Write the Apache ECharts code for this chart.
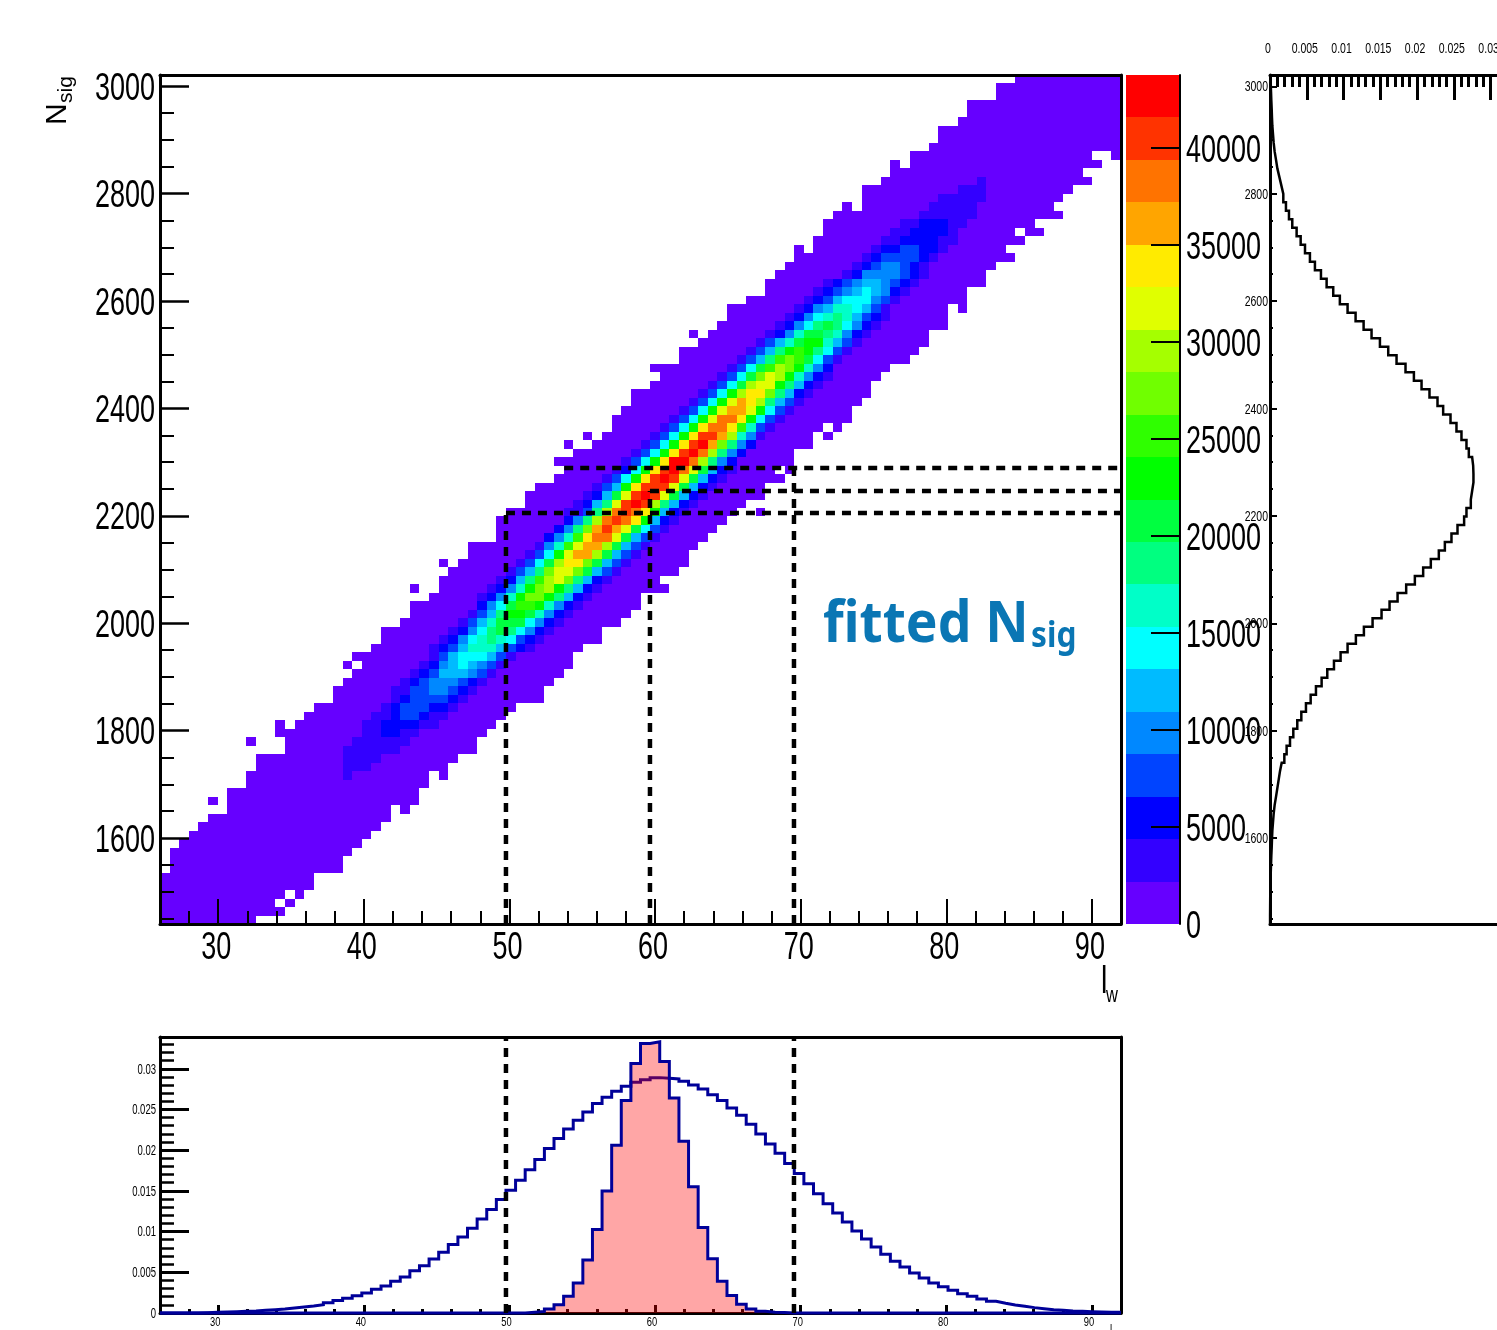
<!DOCTYPE html>
<html>
<head>
<meta charset="utf-8">
<title>fitted Nsig</title>
<style>html,body{margin:0;padding:0;background:#fff;overflow:hidden}#c{width:1497px;height:1330px}</style>
<script src="https://cdn.jsdelivr.net/npm/echarts@6/dist/echarts.min.js"></script>
</head>
<body>
<div id="c"></div>
<script>
// ---------- binning ----------
const xMin = 26, xMax = 92, xBins = 100;
const yMin = 1440, yMax = 3021, yBins = 100;

// ---------- ticks ----------
const xMajor = [30, 40, 50, 60, 70, 80, 90];
const xMinor = [28, 32, 34, 36, 38, 42, 44, 46, 48, 52, 54, 56, 58, 62, 64, 66, 68, 72, 74, 76, 78, 82, 84, 86, 88, 92];
const yMajor = [1600, 1800, 2000, 2200, 2400, 2600, 2800, 3000];
const yMinor = [1450, 1500, 1550, 1650, 1700, 1750, 1850, 1900, 1950, 2050, 2100, 2150, 2250, 2300, 2350, 2450, 2500, 2550, 2650, 2700, 2750, 2850, 2900, 2950];
const probMajor = [0, 0.005, 0.01, 0.015, 0.02, 0.025, 0.03];
const probMinor = [0.001, 0.002, 0.003, 0.004, 0.006, 0.007, 0.008, 0.009, 0.011, 0.012, 0.013, 0.014, 0.016, 0.017, 0.018, 0.019, 0.021, 0.022, 0.023, 0.024, 0.026, 0.027, 0.028, 0.029, 0.031, 0.032, 0.033];
const zTicks = [5000, 10000, 15000, 20000, 25000, 30000, 35000, 40000];
const zLabels = [0, 5000, 10000, 15000, 20000, 25000, 30000, 35000, 40000];

// ---------- palette and colour-bar levels ----------
const palette = ['#6600ff', '#3300ff', '#0000ff', '#0044ff', '#0088ff', '#00bbff', '#00ffff', '#00ffc8', '#00ff80', '#00ff40',
  '#00ff00', '#2fff00', '#70ff00', '#a5ff00', '#e0ff00', '#ffeb00', '#ffa500', '#ff7300', '#ff3300', '#ff0000'];
const levelEdges = [0, 2188, 4376, 6564, 8752, 10940, 13128, 15316, 17504, 19692, 21880, 24068, 26256, 28444, 30632, 32820, 35008, 37196, 39384, 41572, 43760];

// ---------- 2D histogram, row by row from the bottom: occupied column span ----------
const outlineLeft = [0, 0, 0, 0, 0, 0, 1, 1, 1, 2, 3, 4, 5, 7, 7, 7, 9, 9, 10, 10, 13, 13, 12, 14, 15, 16, 18, 18, 19, 20, 21, 20, 22, 23, 23, 25, 26, 26, 28, 29, 29, 30, 31, 32, 32, 35, 35, 35, 36, 38, 38, 39, 41, 42, 41, 43, 45, 46, 47, 47, 48, 49, 49, 51, 52, 51, 54, 54, 56, 57, 58, 59, 59, 61, 63, 63, 64, 65, 66, 68, 68, 69, 69, 70, 73, 73, 73, 75, 76, 78, 78, 80, 81, 81, 83, 84, 84, 87, 87, 89];
const outlineRight = [10, 13, 12, 13, 16, 16, 19, 19, 20, 21, 22, 23, 24, 24, 27, 27, 28, 28, 30, 31, 33, 33, 34, 35, 36, 37, 40, 40, 41, 42, 43, 43, 44, 46, 46, 48, 49, 50, 50, 53, 52, 54, 55, 55, 56, 57, 58, 59, 60, 61, 63, 63, 65, 64, 66, 66, 68, 68, 69, 72, 72, 73, 74, 74, 75, 76, 78, 79, 80, 80, 82, 82, 82, 84, 84, 86, 86, 87, 89, 88, 90, 89, 91, 94, 93, 94, 95, 97, 96, 98, 97, 100, 100, 100, 100, 100, 100, 100, 100, 100];
// isolated lowest-level cells outside the span: [column, row]
const strays = [[13, 2], [14, 3], [25, 13], [5, 14], [29, 17], [9, 21], [12, 23], [19, 30], [26, 39], [29, 42], [62, 48], [65, 53], [42, 56], [44, 57], [69, 57], [70, 58], [55, 69], [83, 72], [66, 79], [90, 81], [91, 81], [71, 84], [76, 89], [99, 90]];
// the populated core: [row, first column, colour level per column in base 20]
const coreRows = [
  [17, 19, '1'], [18, 19, '111'], [19, 19, '1111'], [20, 19, '111111'], [21, 20, '111111'],
  [22, 21, '112211'], [23, 21, '11222211'], [24, 22, '11233211'], [25, 23, '12333221'], [26, 24, '12333321'],
  [27, 24, '113344321'], [28, 25, '123444321'], [29, 26, '123555431'], [30, 27, '124565431'], [31, 28, '135666531'],
  [32, 28, '12357775321'], [33, 29, '12467876321'], [34, 30, '12468986421'], [35, 31, '13579996421'], [36, 32, '1358aa97421'],
  [37, 33, '2469bba7421'], [38, 33, '1247acca8521'], [39, 34, '1247acda8521'], [40, 35, '1258bdec8521'], [41, 36, '1358ceec9531'],
  [42, 37, '1369dffc9531'], [43, 38, '136aeggd9531'], [44, 39, '147beggd9531'], [45, 40, '247bfhhe9531'], [46, 41, '248cgige9631'],
  [47, 42, '248dhihfa521'], [48, 42, '1138dhihfa521'], [49, 43, '1258eijid8521'], [50, 44, '1259eijie9521'], [51, 45, '135afiiie9521'],
  [52, 46, '136afijie9521'], [53, 47, '126afijhe9521'], [54, 48, '136afjjhd842'], [55, 49, '136afijhd842'], [56, 50, '136afijgc842'],
  [57, 51, '136afiigd741'], [58, 52, '136afhhfb731'], [59, 53, '136aehhfa631'], [60, 54, '136aeggea631'], [61, 55, '136aegfd8531'],
  [62, 56, '136adffc8521'], [63, 57, '1369deea8521'], [64, 58, '1369ceda7421'], [65, 59, '1369bdca742'], [66, 60, '1358bcb9631'],
  [67, 61, '1358aba8631'], [68, 62, '13579aa7531'], [69, 63, '12479987421'], [70, 64, '12468986421'], [71, 65, '12467875321'],
  [72, 66, '1245776531'], [73, 67, '1235666431'], [74, 68, '1234565421'], [75, 69, '1234554321'], [76, 71, '124444321'],
  [77, 72, '12344321'], [78, 73, '12333321'], [79, 74, '12233221'], [80, 75, '11222211'], [81, 76, '1122221'],
  [82, 77, '1122211'], [83, 79, '111111'], [84, 80, '11111'], [85, 81, '11111'], [86, 83, '111'], [87, 85, '1']
];

// ---------- bottom histograms (probability per x bin) ----------
const xHistWide = [0, 0, 0, 0, 0.00004, 0.00008, 0.00012, 0.00016, 0.0002, 0.00025, 0.00033, 0.00041, 0.00049, 0.00061, 0.00074, 0.00086, 0.00102, 0.00127, 0.00152, 0.00180, 0.00213, 0.00246, 0.00291, 0.00332, 0.00389, 0.00442, 0.00520, 0.00581, 0.00664, 0.00745, 0.00840, 0.00934, 0.01040, 0.01155, 0.01270, 0.01393, 0.01507, 0.01630, 0.01761, 0.01884, 0.02019, 0.02142, 0.02261, 0.02367, 0.02470, 0.02572, 0.02650, 0.02724, 0.02785, 0.02834, 0.02866, 0.02891, 0.02883, 0.02875, 0.02846, 0.02801, 0.02752, 0.02682, 0.02609, 0.02518, 0.02428, 0.02318, 0.02199, 0.02076, 0.01962, 0.01835, 0.01712, 0.01589, 0.01466, 0.01343, 0.01229, 0.01118, 0.01008, 0.00909, 0.00810, 0.00721, 0.00635, 0.00565, 0.00491, 0.00430, 0.00369, 0.00323, 0.00278, 0.00237, 0.00205, 0.00172, 0.00143, 0.00119, 0.00098, 0.00082, 0.00066, 0.00053, 0.00041, 0.00033, 0.00025, 0.00020, 0.00016, 0.00012, 0.00008, 0.00008];
const xHistNarrow = [0, 0, 0, 0, 0, 0, 0, 0, 0, 0, 0, 0, 0, 0, 0, 0, 0, 0, 0, 0, 0, 0, 0, 0, 0, 0, 0, 0, 0, 0, 0, 0, 0, 0, 0, 0, 0, 0, 0.0001, 0.0002, 0.0005, 0.001, 0.00206, 0.0037, 0.0065, 0.01026, 0.015, 0.0206, 0.0261, 0.03065, 0.0331, 0.0333, 0.0309, 0.0264, 0.0211, 0.0155, 0.0105, 0.00666, 0.0039, 0.00215, 0.00108, 0.0005, 0.00022, 0.0001, 0.00005, 0, 0, 0, 0, 0, 0, 0, 0, 0, 0, 0, 0, 0, 0, 0, 0, 0, 0, 0, 0, 0, 0, 0, 0, 0, 0, 0, 0, 0, 0, 0, 0, 0, 0, 0];

// ---------- right histogram (probability per y bin, from the bottom) ----------
const yHist = [0.00001, 0.00002, 0.00003, 0.00005, 0.00008, 0.0001, 0.00014, 0.00018, 0.00023, 0.00027, 0.00032, 0.00041, 0.0005, 0.00063, 0.00082, 0.001, 0.00118, 0.00136, 0.00159, 0.00195, 0.00226, 0.00272, 0.00317, 0.00371, 0.00426, 0.00489, 0.00553, 0.00625, 0.00702, 0.00779, 0.0087, 0.0096, 0.01055, 0.01168, 0.01277, 0.01395, 0.01517, 0.01626, 0.01735, 0.01852, 0.0197, 0.02083, 0.02187, 0.02296, 0.02378, 0.02468, 0.0255, 0.0264, 0.02672, 0.02731, 0.02749, 0.02767, 0.02767, 0.02763, 0.02749, 0.02704, 0.02672, 0.02604, 0.02536, 0.02455, 0.02355, 0.02278, 0.02169, 0.02061, 0.01957, 0.01843, 0.01721, 0.01608, 0.01495, 0.01381, 0.01273, 0.01164, 0.01055, 0.0095, 0.0086, 0.0077, 0.00693, 0.00611, 0.00543, 0.00476, 0.00417, 0.00362, 0.00303, 0.00258, 0.00217, 0.00181, 0.00154, 0.00127, 0.001, 0.00082, 0.00063, 0.0005, 0.00041, 0.00032, 0.00027, 0.00023, 0.00018, 0.00014, 0.0001, 0.00005];

// ---------- dashed guide lines, in data units ----------
const guideX = [49.76, 59.65, 69.54];
const guideY = [2205.5, 2246.5, 2289.3];
const guideStartX = [49.76, 59.65, 53.76];
const guideEndX = 91.98;

// ---------- helpers ----------
const SANS = '"Liberation Sans",sans-serif';
const xStep = (xMax - xMin) / xBins, yStep = (yMax - yMin) / yBins;
const cells = [];
function putCell(c, r, lvl) {
  cells.push([xMin + c * xStep, yMin + r * yStep, xMin + (c + 1) * xStep, yMin + (r + 1) * yStep, lvl]);
}
const grid2d = {};
outlineLeft.forEach(function (l, r) { for (let c = l; c < outlineRight[r]; c++) grid2d[c + '_' + r] = 0; });
strays.forEach(function (s) { grid2d[s[0] + '_' + s[1]] = 0; });
coreRows.forEach(function (row) {
  for (let i = 0; i < row[2].length; i++) grid2d[(row[1] + i) + '_' + row[0]] = parseInt(row[2][i], 20);
});
Object.keys(grid2d).forEach(function (k) { const p = k.split('_'); putCell(+p[0], +p[1], grid2d[k]); });

function renderBox(params, api) {
  const a = api.coord([api.value(0), api.value(1)]), b = api.coord([api.value(2), api.value(3)]);
  const x = Math.round(a[0]), y = Math.round(b[1]);
  return { type: 'rect', shape: { x: x, y: y, width: Math.round(b[0]) - x, height: Math.round(a[1]) - y }, style: { fill: palette[api.value(4)] } };
}
function stepX(vals) {
  const out = [[xMin, 0]];
  vals.forEach(function (v, i) { out.push([xMin + i * xStep, v], [xMin + (i + 1) * xStep, v]); });
  out.push([xMax, 0]);
  return out;
}
function stepY(vals) {
  const out = [];
  vals.forEach(function (v, i) { out.push([v, yMin + i * yStep], [v, yMin + (i + 1) * yStep]); });
  return out;
}
function axis(grid, pos, lo, hi, o) {
  o = o || {};
  return {
    type: 'value', gridIndex: grid, position: pos, min: lo, max: hi, z: 10, silent: true, splitLine: { show: false },
    axisLine: { show: !!o.line, onZero: false, lineStyle: { color: '#000', width: o.line || 0 } },
    axisTick: { show: !!o.ticks, inside: true, length: o.len || 0, customValues: o.ticks || [], lineStyle: { color: '#000', width: o.tw || 2 } },
    axisLabel: { show: false }
  };
}
function guide(pts, xi, yi) {
  return { type: 'line', xAxisIndex: xi, yAxisIndex: yi, data: pts, symbol: 'none', silent: true, z: 15, clip: true,
    lineStyle: { color: '#000', width: 4.5, type: [9, 7], cap: 'butt' }, animation: false };
}
// tick labels are condensed like the original, so they are drawn as text placed through the axis scale
function tickText(xi, yi, pts, fontPx, squeeze, align, dx, dy) {
  return {
    type: 'custom', xAxisIndex: xi, yAxisIndex: yi, data: pts, silent: true, z: 30, clip: false, animation: false,
    encode: { x: 0, y: 1 },
    renderItem: function (params, api) {
      const p = api.coord([api.value(0), api.value(1)]);
      return { type: 'text', x: p[0] + dx, y: p[1] + dy, scaleX: squeeze,
        style: { text: String(api.value(2)), font: fontPx + 'px ' + SANS, fill: '#000', align: align, verticalAlign: 'middle' } };
    }
  };
}
const onX = function (y) { return function (v) { return [v, y, v]; }; };
const onY = function (x) { return function (v) { return [x, v, v]; }; };

const option = {
  animation: false,
  backgroundColor: '#fff',
  grid: [
    { left: 160, top: 75, width: 961, height: 849, outerBoundsMode: 'none' },
    { left: 1126, top: 75, width: 54, height: 849, outerBoundsMode: 'none' },
    { left: 1270, top: 75, width: 250, height: 849, outerBoundsMode: 'none' },
    { left: 160, top: 1037, width: 961, height: 276, outerBoundsMode: 'none' }
  ],
  xAxis: [
    axis(0, 'bottom', xMin, xMax, { line: 3, ticks: xMajor, len: 25 }),
    axis(0, 'bottom', xMin, xMax, { ticks: xMinor, len: 13 }),
    axis(0, 'top', xMin, xMax, { line: 3 }),
    axis(1, 'bottom', 0, 1, {}),
    axis(2, 'top', 0, 0.034, { line: 3, ticks: probMajor, len: 25, tw: 3 }),
    axis(2, 'top', 0, 0.034, { ticks: probMinor, len: 12, tw: 3 }),
    axis(2, 'bottom', 0, 0.034, { line: 3 }),
    axis(3, 'bottom', xMin, xMax, { line: 3, ticks: xMajor, len: 8, tw: 3 }),
    axis(3, 'bottom', xMin, xMax, { ticks: xMinor, len: 4, tw: 3 }),
    axis(3, 'top', xMin, xMax, { line: 3 })
  ],
  yAxis: [
    axis(0, 'left', yMin, yMax, { line: 3, ticks: yMajor, len: 29, tw: 2.5 }),
    axis(0, 'left', yMin, yMax, { ticks: yMinor, len: 14 }),
    axis(0, 'right', yMin, yMax, { line: 3 }),
    axis(1, 'right', 0, 43760, { line: 2, ticks: zTicks, len: 29 }),
    axis(2, 'left', yMin, yMax, { line: 3, ticks: yMajor, len: 7 }),
    axis(2, 'left', yMin, yMax, { ticks: yMinor, len: 3 }),
    axis(3, 'left', 0, 0.0339, { line: 3, ticks: probMajor, len: 29, tw: 3 }),
    axis(3, 'left', 0, 0.0339, { ticks: probMinor, len: 14, tw: 2.5 }),
    axis(3, 'right', 0, 0.0339, { line: 3 })
  ],
  series: [
    { type: 'custom', name: 'Nsig vs lw', xAxisIndex: 0, yAxisIndex: 0, data: cells, renderItem: renderBox, silent: true, z: 2,
      encode: { x: [0, 2], y: [1, 3] }, progressive: 0, animation: false, clip: true },
    { type: 'custom', name: 'palette', xAxisIndex: 3, yAxisIndex: 3,
      data: palette.map(function (col, i) { return [0, levelEdges[i], 1, levelEdges[i + 1], i]; }), renderItem: renderBox, silent: true, z: 2,
      encode: { x: [0, 2], y: [1, 3] }, animation: false },
    { type: 'line', name: 'Nsig projection', xAxisIndex: 4, yAxisIndex: 4, data: stepY(yHist), symbol: 'none', silent: true, z: 12, clip: false,
      lineStyle: { color: '#000', width: 2.5, join: 'miter' }, animation: false },
    { type: 'line', name: 'wide', xAxisIndex: 7, yAxisIndex: 6, data: stepX(xHistWide), symbol: 'none', silent: true, z: 11, clip: false,
      lineStyle: { color: '#000099', width: 3, join: 'miter' }, animation: false },
    { type: 'line', name: 'narrow', xAxisIndex: 7, yAxisIndex: 6, data: stepX(xHistNarrow), symbol: 'none', silent: true, z: 12, clip: false,
      lineStyle: { color: '#000099', width: 3, join: 'miter' }, areaStyle: { color: 'rgba(255,0,0,0.35)', opacity: 1 }, animation: false },
    guide([[guideX[0], yMin], [guideX[0], guideY[0]]], 0, 0),
    guide([[guideX[1], yMin], [guideX[1], guideY[1]]], 0, 0),
    guide([[guideX[2], yMin], [guideX[2], guideY[2]]], 0, 0),
    guide([[guideStartX[0], guideY[0]], [guideEndX, guideY[0]]], 0, 0),
    guide([[guideStartX[1], guideY[1]], [guideEndX, guideY[1]]], 0, 0),
    guide([[guideStartX[2], guideY[2]], [guideEndX, guideY[2]]], 0, 0),
    guide([[guideX[0], 0], [guideX[0], 0.0339]], 7, 6),
    guide([[guideX[2], 0], [guideX[2], 0.0339]], 7, 6),
    tickText(0, 0, yMajor.map(onY(xMin)), 38, 0.71, 'right', -5, 3),
    tickText(0, 0, xMajor.map(onX(yMin)), 38, 0.71, 'center', -2, 25),
    tickText(3, 3, zLabels.map(onY(1)), 38, 0.71, 'left', 6, 4),
    tickText(4, 4, probMajor.map(onX(yMax)), 15, 0.7, 'center', -2, -26),
    tickText(4, 4, yMajor.map(onY(0)), 15, 0.7, 'right', -2, 1),
    tickText(7, 6, xMajor.map(onX(0)), 13, 0.72, 'center', -3, 9),
    tickText(7, 6, probMajor.map(onY(xMin)), 14, 0.68, 'right', -4, 1)
  ],
  graphic: [
    { type: 'text', x: 43, y: 125, rotation: Math.PI / 2, z: 20, silent: true,
      style: { text: 'N', font: '30px "Liberation Sans"', fill: '#000', align: 'left', verticalAlign: 'top' } },
    { type: 'text', x: 56, y: 103, rotation: Math.PI / 2, z: 20, silent: true,
      style: { text: 'sig', font: '21px "Liberation Sans"', fill: '#000', align: 'left', verticalAlign: 'top' } },
    { type: 'text', x: 1101, y: 1002, z: 20, silent: true, scaleX: 0.75, style: { text: 'l', font: '38px ' + SANS, fill: '#000', align: 'left', verticalAlign: 'bottom' } },
    { type: 'text', x: 1106, y: 1007, z: 20, silent: true, scaleX: 0.75, style: { text: 'w', font: '22px ' + SANS, fill: '#000', align: 'left', verticalAlign: 'bottom' } },
    { type: 'text', x: 1110, y: 1336, z: 20, silent: true, scaleX: 0.75, style: { text: 'l', font: '13px ' + SANS, fill: '#000', align: 'left', verticalAlign: 'bottom' } },
    { type: 'text', x: 823, y: 596, z: 20, silent: true, scaleX: 0.92, style: { text: 'fitted N', font: 'bold 58px "Noto Sans"', fill: '#0a76b4', align: 'left' } },
    { type: 'text', x: 1031, y: 619, z: 20, silent: true, scaleX: 0.88, style: { text: 'sig', font: 'bold 36px "Noto Sans"', fill: '#0a76b4', align: 'left' } }
  ]
};
const chart = echarts.init(document.getElementById('c'), null, { renderer: 'canvas', width: 1497, height: 1330 });
chart.setOption(option);
</script>
</body>
</html>
